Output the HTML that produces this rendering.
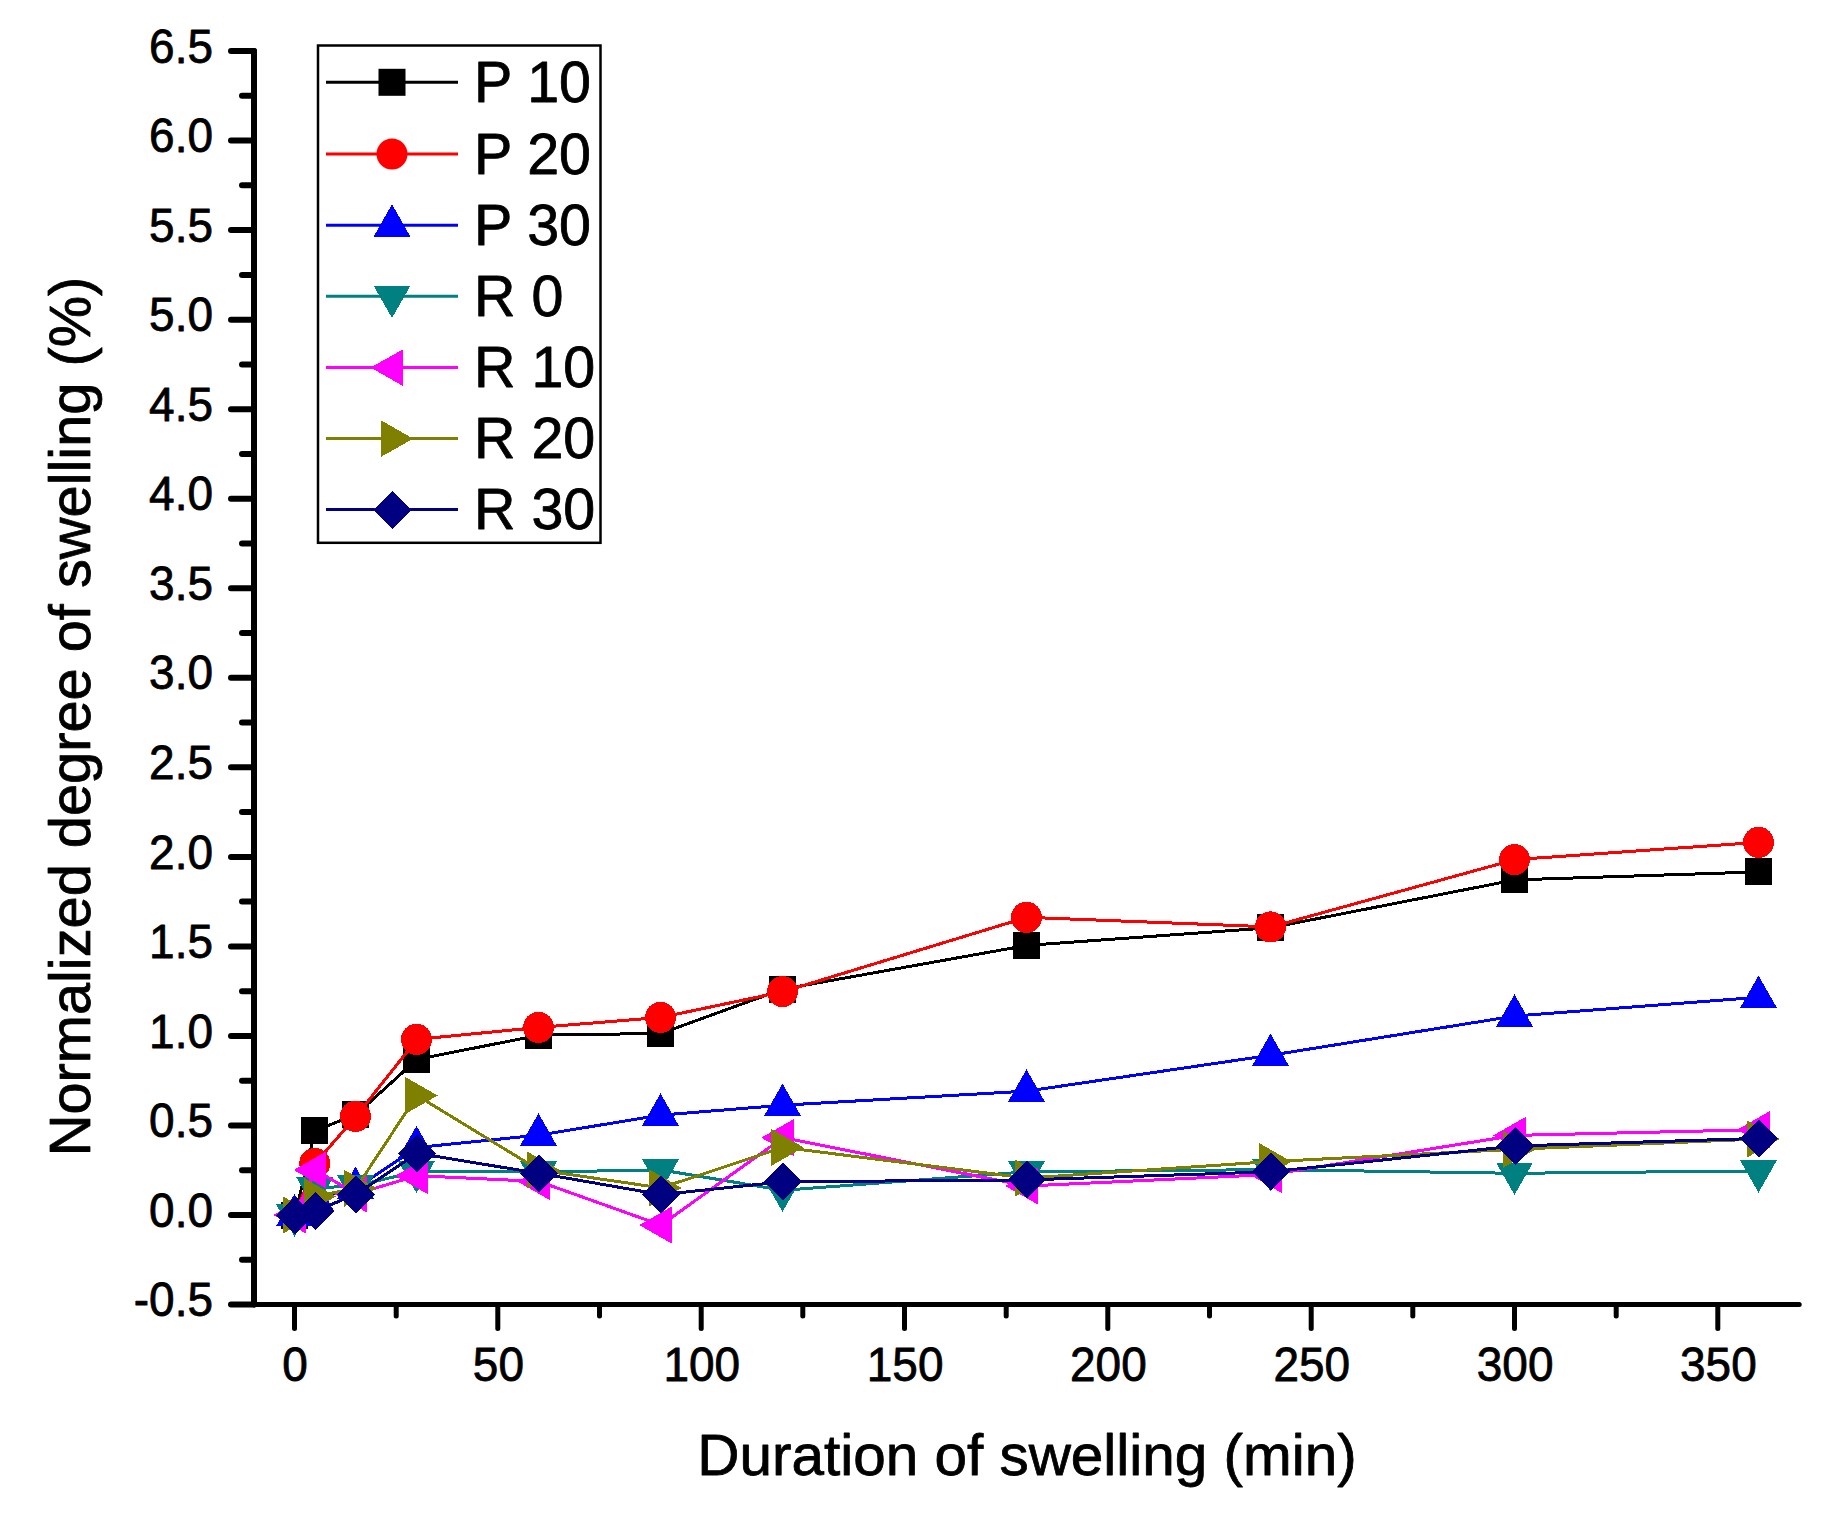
<!DOCTYPE html>
<html><head><meta charset="utf-8"><title>Swelling chart</title>
<style>html,body{margin:0;padding:0;background:#fff}body{width:1823px;height:1515px;overflow:hidden}svg{display:block}text{font-family:"Liberation Sans",Arial,sans-serif;fill:#000;stroke:#000;stroke-width:0.8px;stroke-linejoin:round}</style></head><body>
<svg width="1823" height="1515" viewBox="0 0 1823 1515">
<rect width="1823" height="1515" fill="#fff"/>
<g stroke="#000" stroke-linecap="round" fill="none">
<line x1="254" y1="51" x2="254" y2="1304.5" stroke-width="6"/>
<line x1="254" y1="1304.5" x2="1799.2" y2="1304.5" stroke-width="5"/>
<line x1="231" y1="1304.5" x2="254" y2="1304.5" stroke-width="6"/>
<line x1="242" y1="1259.8" x2="254" y2="1259.8" stroke-width="6"/>
<line x1="231" y1="1215.0" x2="254" y2="1215.0" stroke-width="6"/>
<line x1="242" y1="1170.2" x2="254" y2="1170.2" stroke-width="6"/>
<line x1="231" y1="1125.5" x2="254" y2="1125.5" stroke-width="6"/>
<line x1="242" y1="1080.7" x2="254" y2="1080.7" stroke-width="6"/>
<line x1="231" y1="1035.9" x2="254" y2="1035.9" stroke-width="6"/>
<line x1="242" y1="991.2" x2="254" y2="991.2" stroke-width="6"/>
<line x1="231" y1="946.4" x2="254" y2="946.4" stroke-width="6"/>
<line x1="242" y1="901.6" x2="254" y2="901.6" stroke-width="6"/>
<line x1="231" y1="856.9" x2="254" y2="856.9" stroke-width="6"/>
<line x1="242" y1="812.1" x2="254" y2="812.1" stroke-width="6"/>
<line x1="231" y1="767.3" x2="254" y2="767.3" stroke-width="6"/>
<line x1="242" y1="722.6" x2="254" y2="722.6" stroke-width="6"/>
<line x1="231" y1="677.8" x2="254" y2="677.8" stroke-width="6"/>
<line x1="242" y1="633.0" x2="254" y2="633.0" stroke-width="6"/>
<line x1="231" y1="588.3" x2="254" y2="588.3" stroke-width="6"/>
<line x1="242" y1="543.5" x2="254" y2="543.5" stroke-width="6"/>
<line x1="231" y1="498.7" x2="254" y2="498.7" stroke-width="6"/>
<line x1="242" y1="454.0" x2="254" y2="454.0" stroke-width="6"/>
<line x1="231" y1="409.2" x2="254" y2="409.2" stroke-width="6"/>
<line x1="242" y1="364.4" x2="254" y2="364.4" stroke-width="6"/>
<line x1="231" y1="319.7" x2="254" y2="319.7" stroke-width="6"/>
<line x1="242" y1="274.9" x2="254" y2="274.9" stroke-width="6"/>
<line x1="231" y1="230.1" x2="254" y2="230.1" stroke-width="6"/>
<line x1="242" y1="185.3" x2="254" y2="185.3" stroke-width="6"/>
<line x1="231" y1="140.6" x2="254" y2="140.6" stroke-width="6"/>
<line x1="242" y1="95.8" x2="254" y2="95.8" stroke-width="6"/>
<line x1="231" y1="51.0" x2="254" y2="51.0" stroke-width="6"/>
<line x1="294.5" y1="1304.5" x2="294.5" y2="1328.5" stroke-width="5"/>
<line x1="396.2" y1="1304.5" x2="396.2" y2="1316" stroke-width="5"/>
<line x1="497.8" y1="1304.5" x2="497.8" y2="1328.5" stroke-width="5"/>
<line x1="599.5" y1="1304.5" x2="599.5" y2="1316" stroke-width="5"/>
<line x1="701.2" y1="1304.5" x2="701.2" y2="1328.5" stroke-width="5"/>
<line x1="802.8" y1="1304.5" x2="802.8" y2="1316" stroke-width="5"/>
<line x1="904.5" y1="1304.5" x2="904.5" y2="1328.5" stroke-width="5"/>
<line x1="1006.2" y1="1304.5" x2="1006.2" y2="1316" stroke-width="5"/>
<line x1="1107.8" y1="1304.5" x2="1107.8" y2="1328.5" stroke-width="5"/>
<line x1="1209.5" y1="1304.5" x2="1209.5" y2="1316" stroke-width="5"/>
<line x1="1311.2" y1="1304.5" x2="1311.2" y2="1328.5" stroke-width="5"/>
<line x1="1412.8" y1="1304.5" x2="1412.8" y2="1316" stroke-width="5"/>
<line x1="1514.5" y1="1304.5" x2="1514.5" y2="1328.5" stroke-width="5"/>
<line x1="1616.2" y1="1304.5" x2="1616.2" y2="1316" stroke-width="5"/>
<line x1="1717.8" y1="1304.5" x2="1717.8" y2="1328.5" stroke-width="5"/>
</g>
<g font-size="47.4" text-anchor="end">
<text transform="translate(213,1316.1) scale(0.97,1)">-0.5</text>
<text transform="translate(213,1226.6) scale(0.97,1)">0.0</text>
<text transform="translate(213,1137.1) scale(0.97,1)">0.5</text>
<text transform="translate(213,1047.5) scale(0.97,1)">1.0</text>
<text transform="translate(213,958.0) scale(0.97,1)">1.5</text>
<text transform="translate(213,868.5) scale(0.97,1)">2.0</text>
<text transform="translate(213,778.9) scale(0.97,1)">2.5</text>
<text transform="translate(213,689.4) scale(0.97,1)">3.0</text>
<text transform="translate(213,599.9) scale(0.97,1)">3.5</text>
<text transform="translate(213,510.3) scale(0.97,1)">4.0</text>
<text transform="translate(213,420.8) scale(0.97,1)">4.5</text>
<text transform="translate(213,331.3) scale(0.97,1)">5.0</text>
<text transform="translate(213,241.7) scale(0.97,1)">5.5</text>
<text transform="translate(213,152.2) scale(0.97,1)">6.0</text>
<text transform="translate(213,62.6) scale(0.97,1)">6.5</text>
</g>
<g font-size="47.4" text-anchor="middle">
<text transform="translate(295.1,1381.3) scale(0.97,1)">0</text>
<text transform="translate(498.4,1381.3) scale(0.97,1)">50</text>
<text transform="translate(701.8,1381.3) scale(0.97,1)">100</text>
<text transform="translate(905.1,1381.3) scale(0.97,1)">150</text>
<text transform="translate(1108.4,1381.3) scale(0.97,1)">200</text>
<text transform="translate(1311.8,1381.3) scale(0.97,1)">250</text>
<text transform="translate(1515.1,1381.3) scale(0.97,1)">300</text>
<text transform="translate(1718.4,1381.3) scale(0.97,1)">350</text>
</g>
<text x="1027" y="1474.8" font-size="58" text-anchor="middle" textLength="659.3" lengthAdjust="spacingAndGlyphs">Duration of swelling (min)</text>
<text transform="translate(90,716.5) rotate(-90) scale(0.996,1)" font-size="58" text-anchor="middle">Normalized degree of swelling (%)</text>
<g shape-rendering="crispEdges"><polyline points="295.0,1215.0 315.3,1130.4 356.0,1114.7 417.0,1059.4 539.0,1035.2 661.0,1033.4 783.0,989.1 1027.0,945.4 1271.0,927.7 1515.0,879.9 1759.0,871.9" fill="none" stroke="#000000" stroke-width="3" stroke-linejoin="round"/>
<rect x="281.0" y="1201.5" width="27" height="27" fill="#000000"/>
<rect x="301.3" y="1116.9" width="27" height="27" fill="#000000"/>
<rect x="342.0" y="1101.2" width="27" height="27" fill="#000000"/>
<rect x="403.0" y="1045.9" width="27" height="27" fill="#000000"/>
<rect x="525.0" y="1021.7" width="27" height="27" fill="#000000"/>
<rect x="647.0" y="1019.9" width="27" height="27" fill="#000000"/>
<rect x="769.0" y="975.6" width="27" height="27" fill="#000000"/>
<rect x="1013.0" y="931.9" width="27" height="27" fill="#000000"/>
<rect x="1257.0" y="914.2" width="27" height="27" fill="#000000"/>
<rect x="1501.0" y="866.4" width="27" height="27" fill="#000000"/>
<rect x="1745.0" y="858.4" width="27" height="27" fill="#000000"/>
</g>
<g shape-rendering="crispEdges"><polyline points="295.0,1215.0 315.3,1163.4 356.0,1116.3 417.0,1039.3 539.0,1027.4 661.0,1017.4 783.0,991.7 1027.0,917.3 1271.0,926.9 1515.0,859.6 1759.0,842.3" fill="none" stroke="#ff0000" stroke-width="3" stroke-linejoin="round"/>
<circle cx="294.5" cy="1215.0" r="15.5" fill="#ff0000"/>
<circle cx="314.8" cy="1163.4" r="15.5" fill="#ff0000"/>
<circle cx="355.5" cy="1116.3" r="15.5" fill="#ff0000"/>
<circle cx="416.5" cy="1039.3" r="15.5" fill="#ff0000"/>
<circle cx="538.5" cy="1027.4" r="15.5" fill="#ff0000"/>
<circle cx="660.5" cy="1017.4" r="15.5" fill="#ff0000"/>
<circle cx="782.5" cy="991.7" r="15.5" fill="#ff0000"/>
<circle cx="1026.5" cy="917.3" r="15.5" fill="#ff0000"/>
<circle cx="1270.5" cy="926.9" r="15.5" fill="#ff0000"/>
<circle cx="1514.5" cy="859.6" r="15.5" fill="#ff0000"/>
<circle cx="1758.5" cy="842.3" r="15.5" fill="#ff0000"/>
</g>
<g shape-rendering="crispEdges"><polyline points="295.0,1215.6 315.3,1199.0 356.0,1188.2 417.0,1147.5 539.0,1135.1 661.0,1115.1 783.0,1105.2 1027.0,1091.1 1271.0,1055.2 1515.0,1016.0 1759.0,997.2" fill="none" stroke="#0000ff" stroke-width="3" stroke-linejoin="round"/>
<polygon points="276.0,1226.4 313.0,1226.4 294.5,1193.9" fill="#0000ff"/>
<polygon points="296.3,1209.8 333.3,1209.8 314.8,1177.3" fill="#0000ff"/>
<polygon points="337.0,1199.0 374.0,1199.0 355.5,1166.5" fill="#0000ff"/>
<polygon points="398.0,1158.3 435.0,1158.3 416.5,1125.8" fill="#0000ff"/>
<polygon points="520.0,1145.9 557.0,1145.9 538.5,1113.4" fill="#0000ff"/>
<polygon points="642.0,1125.9 679.0,1125.9 660.5,1093.4" fill="#0000ff"/>
<polygon points="764.0,1116.0 801.0,1116.0 782.5,1083.5" fill="#0000ff"/>
<polygon points="1008.0,1101.9 1045.0,1101.9 1026.5,1069.4" fill="#0000ff"/>
<polygon points="1252.0,1066.0 1289.0,1066.0 1270.5,1033.5" fill="#0000ff"/>
<polygon points="1496.0,1026.8 1533.0,1026.8 1514.5,994.3" fill="#0000ff"/>
<polygon points="1740.0,1008.0 1777.0,1008.0 1758.5,975.5" fill="#0000ff"/>
</g>
<g shape-rendering="crispEdges"><polyline points="295.0,1215.0 315.3,1188.0 356.0,1185.8 417.0,1171.5 539.0,1172.0 661.0,1169.9 783.0,1190.3 1027.0,1171.8 1271.0,1169.6 1515.0,1173.3 1759.0,1170.9" fill="none" stroke="#008080" stroke-width="3" stroke-linejoin="round"/>
<polygon points="276.0,1204.2 313.0,1204.2 294.5,1236.7" fill="#008080"/>
<polygon points="296.3,1177.2 333.3,1177.2 314.8,1209.7" fill="#008080"/>
<polygon points="337.0,1175.0 374.0,1175.0 355.5,1207.5" fill="#008080"/>
<polygon points="398.0,1160.7 435.0,1160.7 416.5,1193.2" fill="#008080"/>
<polygon points="520.0,1161.2 557.0,1161.2 538.5,1193.7" fill="#008080"/>
<polygon points="642.0,1159.1 679.0,1159.1 660.5,1191.6" fill="#008080"/>
<polygon points="764.0,1179.5 801.0,1179.5 782.5,1212.0" fill="#008080"/>
<polygon points="1008.0,1161.0 1045.0,1161.0 1026.5,1193.5" fill="#008080"/>
<polygon points="1252.0,1158.8 1289.0,1158.8 1270.5,1191.3" fill="#008080"/>
<polygon points="1496.0,1162.5 1533.0,1162.5 1514.5,1195.0" fill="#008080"/>
<polygon points="1740.0,1160.1 1777.0,1160.1 1758.5,1192.6" fill="#008080"/>
</g>
<g shape-rendering="crispEdges"><polyline points="295.0,1215.0 315.3,1170.0 356.0,1193.9 417.0,1175.7 539.0,1181.5 661.0,1225.1 783.0,1137.7 1027.0,1186.0 1271.0,1174.5 1515.0,1135.4 1759.0,1129.7" fill="none" stroke="#ff00ff" stroke-width="3" stroke-linejoin="round"/>
<polygon points="305.8,1196.5 305.8,1233.5 273.3,1215.0" fill="#ff00ff"/>
<polygon points="326.2,1151.5 326.2,1188.5 293.7,1170.0" fill="#ff00ff"/>
<polygon points="366.8,1175.4 366.8,1212.4 334.3,1193.9" fill="#ff00ff"/>
<polygon points="427.8,1157.2 427.8,1194.2 395.3,1175.7" fill="#ff00ff"/>
<polygon points="549.8,1163.0 549.8,1200.0 517.3,1181.5" fill="#ff00ff"/>
<polygon points="671.8,1206.6 671.8,1243.6 639.3,1225.1" fill="#ff00ff"/>
<polygon points="793.8,1119.2 793.8,1156.2 761.3,1137.7" fill="#ff00ff"/>
<polygon points="1037.8,1167.5 1037.8,1204.5 1005.3,1186.0" fill="#ff00ff"/>
<polygon points="1281.8,1156.0 1281.8,1193.0 1249.3,1174.5" fill="#ff00ff"/>
<polygon points="1525.8,1116.9 1525.8,1153.9 1493.3,1135.4" fill="#ff00ff"/>
<polygon points="1769.8,1111.2 1769.8,1148.2 1737.3,1129.7" fill="#ff00ff"/>
</g>
<g shape-rendering="crispEdges"><polyline points="295.0,1215.0 315.3,1196.4 356.0,1188.3 417.0,1095.5 539.0,1170.0 661.0,1187.9 783.0,1147.4 1027.0,1178.1 1271.0,1161.6 1515.0,1149.3 1759.0,1139.0" fill="none" stroke="#808000" stroke-width="3" stroke-linejoin="round"/>
<polygon points="283.2,1196.5 283.2,1233.5 315.7,1215.0" fill="#808000"/>
<polygon points="303.5,1177.9 303.5,1214.9 336.0,1196.4" fill="#808000"/>
<polygon points="344.2,1169.8 344.2,1206.8 376.7,1188.3" fill="#808000"/>
<polygon points="405.2,1077.0 405.2,1114.0 437.7,1095.5" fill="#808000"/>
<polygon points="527.2,1151.5 527.2,1188.5 559.7,1170.0" fill="#808000"/>
<polygon points="649.2,1169.4 649.2,1206.4 681.7,1187.9" fill="#808000"/>
<polygon points="771.2,1128.9 771.2,1165.9 803.7,1147.4" fill="#808000"/>
<polygon points="1015.2,1159.6 1015.2,1196.6 1047.7,1178.1" fill="#808000"/>
<polygon points="1259.2,1143.1 1259.2,1180.1 1291.7,1161.6" fill="#808000"/>
<polygon points="1503.2,1130.8 1503.2,1167.8 1535.7,1149.3" fill="#808000"/>
<polygon points="1747.2,1120.5 1747.2,1157.5 1779.7,1139.0" fill="#808000"/>
</g>
<g shape-rendering="crispEdges"><polyline points="295.0,1215.3 315.3,1210.9 356.0,1194.4 417.0,1153.3 539.0,1173.3 661.0,1194.6 783.0,1181.8 1027.0,1179.9 1271.0,1171.8 1515.0,1146.0 1759.0,1138.4" fill="none" stroke="#000080" stroke-width="3" stroke-linejoin="round"/>
<polygon points="276.0,1215.3 295.0,1196.3 314.0,1215.3 295.0,1234.3" fill="#000080"/>
<polygon points="296.3,1210.9 315.3,1191.9 334.3,1210.9 315.3,1229.9" fill="#000080"/>
<polygon points="337.0,1194.4 356.0,1175.4 375.0,1194.4 356.0,1213.4" fill="#000080"/>
<polygon points="398.0,1153.3 417.0,1134.3 436.0,1153.3 417.0,1172.3" fill="#000080"/>
<polygon points="520.0,1173.3 539.0,1154.3 558.0,1173.3 539.0,1192.3" fill="#000080"/>
<polygon points="642.0,1194.6 661.0,1175.6 680.0,1194.6 661.0,1213.6" fill="#000080"/>
<polygon points="764.0,1181.8 783.0,1162.8 802.0,1181.8 783.0,1200.8" fill="#000080"/>
<polygon points="1008.0,1179.9 1027.0,1160.9 1046.0,1179.9 1027.0,1198.9" fill="#000080"/>
<polygon points="1252.0,1171.8 1271.0,1152.8 1290.0,1171.8 1271.0,1190.8" fill="#000080"/>
<polygon points="1496.0,1146.0 1515.0,1127.0 1534.0,1146.0 1515.0,1165.0" fill="#000080"/>
<polygon points="1740.0,1138.4 1759.0,1119.4 1778.0,1138.4 1759.0,1157.4" fill="#000080"/>
</g>
<rect x="318" y="45.5" width="282.5" height="497.3" fill="#fff" stroke="#000" stroke-width="2.5"/>
<line x1="326" y1="82.3" x2="458" y2="82.3" stroke="#000000" stroke-width="3"/>
<rect x="378.5" y="68.8" width="27" height="27" fill="#000000"/>
<text x="474" y="102.1" font-size="57.4">P 10</text>
<line x1="326" y1="154.0" x2="458" y2="154.0" stroke="#ff0000" stroke-width="3"/>
<circle cx="392.0" cy="154.0" r="15.5" fill="#ff0000"/>
<text x="474" y="173.8" font-size="57.4">P 20</text>
<line x1="326" y1="225.3" x2="458" y2="225.3" stroke="#0000ff" stroke-width="3"/>
<polygon shape-rendering="crispEdges" points="373.5,236.8 410.5,236.8 392.0,204.3" fill="#0000ff"/>
<text x="474" y="245.1" font-size="57.4">P 30</text>
<line x1="326" y1="296.3" x2="458" y2="296.3" stroke="#008080" stroke-width="3"/>
<polygon shape-rendering="crispEdges" points="373.5,285.5 410.5,285.5 392.0,318.0" fill="#008080"/>
<text x="474" y="316.1" font-size="57.4">R 0</text>
<line x1="326" y1="367.6" x2="458" y2="367.6" stroke="#ff00ff" stroke-width="3"/>
<polygon shape-rendering="crispEdges" points="403.3,349.1 403.3,386.1 370.8,367.6" fill="#ff00ff"/>
<text x="474" y="387.4" font-size="57.4">R 10</text>
<line x1="326" y1="438.6" x2="458" y2="438.6" stroke="#808000" stroke-width="3"/>
<polygon shape-rendering="crispEdges" points="380.7,420.1 380.7,457.1 413.2,438.6" fill="#808000"/>
<text x="474" y="458.4" font-size="57.4">R 20</text>
<line x1="326" y1="509.6" x2="458" y2="509.6" stroke="#000080" stroke-width="3"/>
<polygon shape-rendering="crispEdges" points="373.5,510.1 392.5,491.1 411.5,510.1 392.5,529.1" fill="#000080"/>
<text x="474" y="529.4" font-size="57.4">R 30</text>
</svg></body></html>
